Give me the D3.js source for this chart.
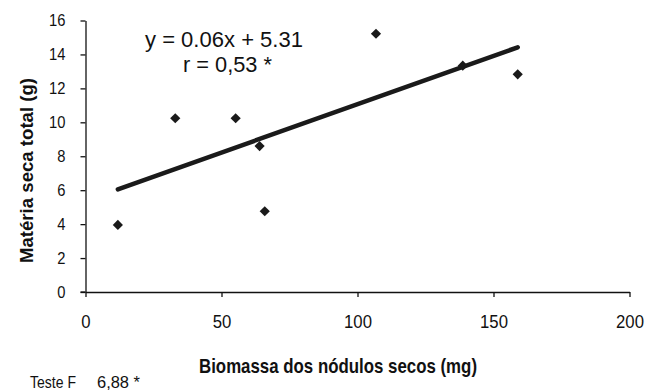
<!DOCTYPE html>
<html>
<head>
<meta charset="utf-8">
<script src="https://cdn.jsdelivr.net/npm/d3@7"></script>
<style>
  html, body { margin: 0; padding: 0; background: #fff; }
  svg { display: block; }
  text { font-family: "Liberation Sans", Arial, "DejaVu Sans Condensed", sans-serif; fill: #111; }
</style>
</head>
<body>
<script>
// Data
const biomassa = [11.9, 33.0, 55.2, 64.0, 65.9, 106.8, 138.7, 158.9];
const materiaSeca = [3.95, 10.24, 10.24, 8.6, 4.76, 15.22, 13.34, 12.83];
const trendX = [11.9, 158.9];
const trendY = [6.05, 14.42];
const xTicks = [0, 50, 100, 150, 200];
const yTicks = [0, 2, 4, 6, 8, 10, 12, 14, 16];
const xTitle = "Biomassa dos nódulos secos (mg)";
const yTitle = "Matéria seca total (g)";
const equation = "y = 0.06x + 5.31";
const rText = "r = 0,53 *";
const fText = ["Teste F", "6,88 *"];

const W = 646, H = 392;
const svg = d3.select("body").append("svg").attr("width", W).attr("height", H);

const x = d3.scaleLinear().domain([0, 200]).range([85.5, 629.5]);
const y = d3.scaleLinear().domain([0, 16]).range([292, 20.5]);

// Y axis
const yAxis = svg.append("g").attr("transform", `translate(${x(0)},0)`)
  .call(d3.axisLeft(y).tickValues(yTicks).tickSize(5).tickPadding(15).tickSizeOuter(0));
yAxis.select(".domain").attr("stroke", "#111").attr("stroke-width", 1.3);
yAxis.selectAll(".tick line").attr("stroke", "#111").attr("stroke-width", 1.3);
yAxis.selectAll(".tick text")
  .style("font-family", '"Liberation Sans", Arial, sans-serif')
  .attr("font-size", 16.5).attr("fill", "#111")
  .attr("lengthAdjust", "spacingAndGlyphs")
  .attr("textLength", d => String(d).length * 8.2);

// X axis
const xAxis = svg.append("g").attr("transform", `translate(0,${y(0)})`)
  .call(d3.axisBottom(x).tickValues(xTicks).tickSize(5).tickPadding(18).tickSizeOuter(0));
xAxis.select(".domain").attr("stroke", "#111").attr("stroke-width", 1.3);
xAxis.selectAll(".tick line").attr("stroke", "#111").attr("stroke-width", 1.3);
xAxis.selectAll(".tick text")
  .style("font-family", '"Liberation Sans", Arial, sans-serif')
  .attr("font-size", 18).attr("fill", "#111")
  .attr("lengthAdjust", "spacingAndGlyphs")
  .attr("textLength", d => String(d).length * 9.3);
// extend x axis line left to the y tick end
xAxis.append("line").attr("x1", x(0) - 5).attr("x2", x(0)).attr("y1", 0).attr("y2", 0)
  .attr("stroke", "#111").attr("stroke-width", 1.3);

// Trend line
svg.append("path")
  .datum(trendX.map((v, i) => [v, trendY[i]]))
  .attr("d", d3.line().x(d => x(d[0])).y(d => y(d[1])))
  .attr("fill", "none").attr("stroke", "#1a1a1a").attr("stroke-width", 4.5)
  .attr("stroke-linecap", "round");

// Points
const sym = d3.symbol().type(d3.symbolSquare).size(52);
svg.append("g").selectAll("path")
  .data(biomassa.map((v, i) => [v, materiaSeca[i]]))
  .join("path")
  .attr("d", sym)
  .attr("transform", d => `translate(${x(d[0])},${y(d[1])}) rotate(45)`)
  .attr("fill", "#1a1a1a");

// Equation
svg.append("text").attr("x", 145).attr("y", 46.7).attr("font-size", 22)
  .attr("lengthAdjust", "spacingAndGlyphs").attr("textLength", 158).text(equation);
svg.append("text").attr("x", 183).attr("y", 71.5).attr("font-size", 22)
  .attr("lengthAdjust", "spacingAndGlyphs").attr("textLength", 89).text(rText);

// Axis titles
svg.append("text").attr("x", 199).attr("y", 373.3).attr("font-size", 20.5).attr("font-weight", "bold")
  .attr("lengthAdjust", "spacingAndGlyphs").attr("textLength", 278).text(xTitle);
svg.append("text").attr("transform", "translate(33,263) rotate(-90)")
  .attr("font-size", 19).attr("font-weight", "bold")
  .attr("lengthAdjust", "spacingAndGlyphs").attr("textLength", 185).text(yTitle);

// Teste F
svg.append("text").attr("x", 30).attr("y", 388).attr("font-size", 17)
  .attr("lengthAdjust", "spacingAndGlyphs").attr("textLength", 46).text(fText[0]);
svg.append("text").attr("x", 97).attr("y", 388).attr("font-size", 17)
  .attr("lengthAdjust", "spacingAndGlyphs").attr("textLength", 43).text(fText[1]);
</script>
</body>
</html>
